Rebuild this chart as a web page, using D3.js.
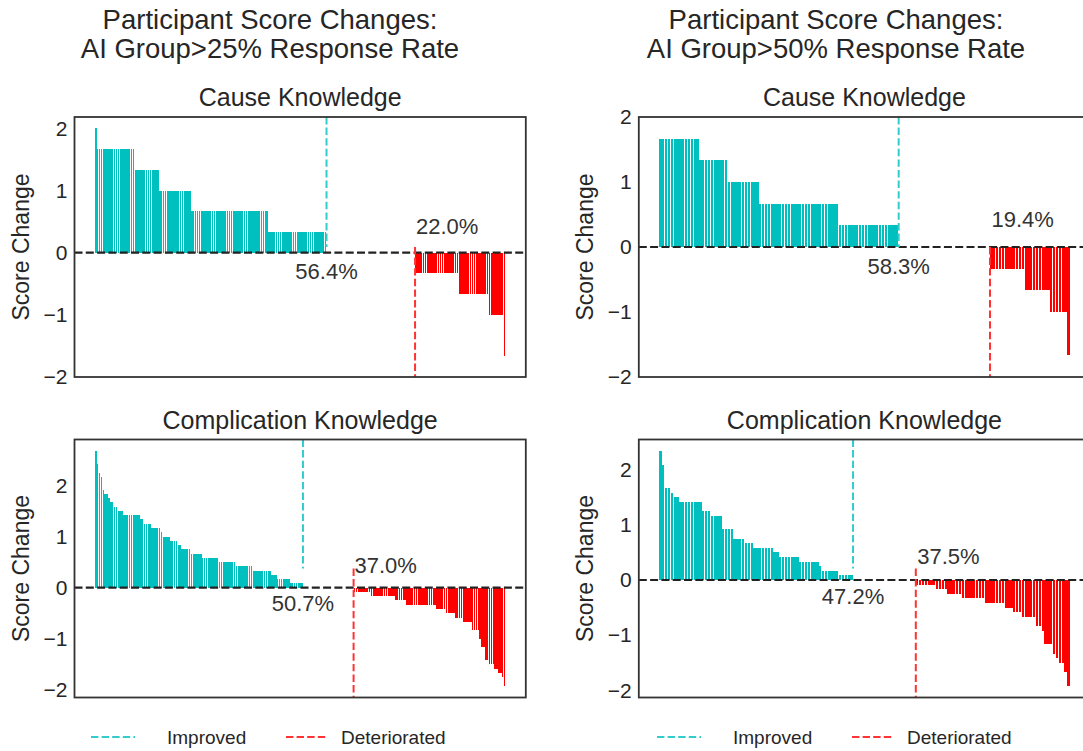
<!DOCTYPE html>
<meta charset="utf-8" />
<style>
  body { margin: 0; background: #fff; }
  svg { font-family: "Liberation Sans", Arial, sans-serif; }
  .y-axis path, .y-axis line { display: none; }
  .y-axis text { font-size: 21px; fill: #262626; }
  .bar { shape-rendering: crispEdges; }
</style>
<body>
<script src="https://cdnjs.cloudflare.com/ajax/libs/d3/7.8.5/d3.min.js"></script>
<script>
  // score change per participant, stored as [value, how many participants]
  var causeImp25 = [[2, 1], [1.667, 20], [1.333, 13], [1, 17], [0.667, 41], [0.333, 31]];
  var causeSame25 = [[0, 47]];
  var causeDet25 = [[-0.333, 23], [-0.667, 16], [-1, 8], [-1.667, 1]];

  var compImp25 = [[2.667, 1], [2.417, 1], [2.25, 1], [2.167, 1], [1.917, 1], [1.833, 2], [1.75, 1],
    [1.667, 2], [1.583, 2], [1.5, 3], [1.417, 9], [1.333, 2], [1.25, 4], [1.167, 5], [1.083, 1],
    [1, 4], [0.917, 4], [0.833, 2], [0.75, 5], [0.667, 6], [0.583, 9], [0.5, 9], [0.417, 9],
    [0.333, 10], [0.25, 3], [0.167, 7], [0.083, 7]];
  var compSame25 = [[0, 27]];
  var compDet25 = [[-0.083, 9], [-0.167, 13], [-0.25, 6], [-0.333, 16], [-0.417, 5], [-0.5, 5],
    [-0.583, 4], [-0.667, 5], [-0.833, 4], [-1, 1], [-1.167, 2], [-1.417, 2], [-1.5, 3],
    [-1.583, 2], [-1.667, 2], [-1.75, 1], [-1.917, 1]];

  var causeImp50 = [[1.667, 14], [1.333, 10], [1, 11], [0.667, 28], [0.333, 21]];
  var causeSame50 = [[0, 32]];
  var causeDet50 = [[-0.333, 12], [-0.667, 9], [-1, 6], [-1.667, 1]];

  var compImp50 = [[2.333, 1], [2.083, 1], [1.667, 2], [1.583, 1], [1.5, 2], [1.417, 8], [1.25, 3],
    [1.167, 4], [0.917, 4], [0.75, 4], [0.667, 3], [0.583, 7], [0.5, 2], [0.417, 7], [0.333, 7],
    [0.25, 1], [0.167, 6], [0.083, 5]];
  var compSame50 = [[0, 22]];
  var compDet50 = [[-0.083, 7], [-0.167, 4], [-0.25, 5], [-0.333, 8], [-0.417, 7], [-0.5, 3],
    [-0.583, 3], [-0.667, 5], [-0.833, 2], [-0.917, 1], [-1.167, 3], [-1.333, 1], [-1.417, 1],
    [-1.5, 2], [-1.667, 1], [-1.917, 1]];

  var groupTitles = [
    ["Participant Score Changes:", "AI Group>25% Response Rate"],
    ["Participant Score Changes:", "AI Group>50% Response Rate"]
  ];
  var panelTitles = ["Cause Knowledge", "Complication Knowledge"];
  var yTicks = [-2, -1, 0, 1, 2];
  var legendLabels = ["Improved", "Deteriorated"];

  var improvedColor = "#00bfbf", deterioratedColor = "#ff0000";
  var improvedLine = "#33cccc", deterioratedLine = "#ff3333";
  var textColor = "#262626";

  var colLeft = [74.5, 638.8], colCenter = [270, 836];
  var rowTop = [117, 439.5], rowHeight = [260, 258];
  var axW = 451.3;

  var panels = [
    { col: 0, row: 0, imp: causeImp25, same: causeSame25, det: causeDet25 },
    { col: 1, row: 0, imp: causeImp50, same: causeSame50, det: causeDet50 },
    { col: 0, row: 1, imp: compImp25, same: compSame25, det: compDet25 },
    { col: 1, row: 1, imp: compImp50, same: compSame50, det: compDet50 }
  ];

  function expand(runs) {
    var out = [];
    runs.forEach(function (r) {
      for (var k = 0; k < r[1]; k++) out.push(r[0]);
    });
    return out;
  }

  var svg = d3.select("body").append("svg")
    .attr("width", 1083)
    .attr("height", 751);

  // column titles
  groupTitles.forEach(function (lines, c) {
    svg.append("text")
      .attr("x", colCenter[c])
      .attr("text-anchor", "middle")
      .style("font-size", "27.5px")
      .style("fill", textColor)
      .selectAll("tspan")
      .data(lines)
      .enter()
      .append("tspan")
      .attr("x", colCenter[c])
      .attr("y", function (d, i) { return 29 + i * 29; })
      .text(function (d) { return d; });
  });

  panels.forEach(function (p) {
    var imp = expand(p.imp), same = expand(p.same), det = expand(p.det);
    var values = imp.concat(same, det);
    var n = values.length;
    var x0 = colLeft[p.col], top = rowTop[p.row], h = rowHeight[p.row];

    // matplotlib style auto limits (5% margins)
    var pad = 0.05 * (n - 0.2);
    var x = d3.scaleLinear()
      .domain([-0.4 - pad, n - 0.6 + pad])
      .range([x0, x0 + axW]);

    var vmax = d3.max(values), vmin = d3.min(values), r = vmax - vmin;
    var y = d3.scaleLinear()
      .domain([Math.min(vmin - 0.05 * r, -2), Math.max(vmax + 0.05 * r, 2)])
      .range([top + h, top]);

    var g = svg.append("g");
    var bw = x(0.8) - x(0);

    g.selectAll(".bar")
      .data(values.map(function (v, i) { return { i: i, v: v }; })
        .filter(function (d) { return d.v !== 0; }))
      .enter()
      .append("rect")
      .attr("class", "bar")
      .attr("x", function (d) { return x(d.i - 0.4); })
      .attr("width", bw)
      .attr("y", function (d) { return y(Math.max(d.v, 0)); })
      .attr("height", function (d) { return Math.abs(y(d.v) - y(0)); })
      .attr("fill", function (d) { return d.v > 0 ? improvedColor : deterioratedColor; });

    // zero line
    g.append("line")
      .attr("x1", x0).attr("x2", x0 + axW)
      .attr("y1", y(0)).attr("y2", y(0))
      .style("stroke", "#222")
      .style("stroke-width", 2.2)
      .style("stroke-dasharray", "8,3.3");

    // split markers
    var xi = x(imp.length - 0.5), xd = x(imp.length + same.length - 0.5);
    g.append("line")
      .attr("x1", xi).attr("x2", xi)
      .attr("y1", top).attr("y2", top + h / 2)
      .style("stroke", improvedLine)
      .style("stroke-width", 2)
      .style("stroke-dasharray", "7.4,3.2");
    g.append("line")
      .attr("x1", xd).attr("x2", xd)
      .attr("y1", top + h / 2).attr("y2", top + h)
      .style("stroke", deterioratedLine)
      .style("stroke-width", 2)
      .style("stroke-dasharray", "7.4,3.2");

    // percentages
    g.append("text")
      .attr("x", xi)
      .attr("y", y(-0.3))
      .attr("dy", "0.35em")
      .attr("text-anchor", "middle")
      .style("font-size", "22px")
      .style("fill", "#333")
      .text((imp.length / n * 100).toFixed(1) + "%");
    g.append("text")
      .attr("x", x(imp.length + same.length))
      .attr("y", y(0.43))
      .attr("dy", "0.35em")
      .attr("text-anchor", "start")
      .style("font-size", "22px")
      .style("fill", "#333")
      .text((det.length / n * 100).toFixed(1) + "%");

    // frame
    g.append("rect")
      .attr("x", x0).attr("y", top)
      .attr("width", axW).attr("height", h)
      .attr("fill", "none")
      .style("stroke", "#333")
      .style("stroke-width", 1.8);

    // y axis
    g.append("g")
      .attr("class", "y-axis")
      .attr("transform", "translate(" + (x0 - 1) + ",0)")
      .call(d3.axisLeft(y).tickValues(yTicks).tickSize(0).tickPadding(6)
        .tickFormat(function (d) { return d < 0 ? "\u2212" + Math.abs(d) : d; }));

    g.append("text")
      .attr("transform", "translate(" + (x0 - 46) + "," + (top + h / 2) + ") rotate(-90)")
      .attr("text-anchor", "middle")
      .style("font-size", "23px")
      .style("fill", textColor)
      .text("Score Change");

    g.append("text")
      .attr("x", x0 + axW / 2)
      .attr("y", top - 11)
      .attr("text-anchor", "middle")
      .style("font-size", "25px")
      .style("fill", textColor)
      .text(panelTitles[p.row]);
  });

  // legends
  [0, 1].forEach(function (c) {
    var lg = svg.append("g").attr("transform", "translate(" + (colCenter[c] - 179) + ",737)");
    var items = [
      { label: legendLabels[0], color: improvedLine, x: 0, len: 44, gap: 32 },
      { label: legendLabels[1], color: deterioratedLine, x: 195, len: 41, gap: 14 }
    ];
    items.forEach(function (it) {
      lg.append("line")
        .attr("x1", it.x).attr("x2", it.x + it.len)
        .attr("y1", 0).attr("y2", 0)
        .style("stroke", it.color)
        .style("stroke-width", 2)
        .style("stroke-dasharray", "7.4,3.2");
      lg.append("text")
        .attr("x", it.x + it.len + it.gap)
        .attr("y", 7)
        .style("font-size", "19px")
        .style("fill", textColor)
        .text(it.label);
    });
  });
</script>
</body>
